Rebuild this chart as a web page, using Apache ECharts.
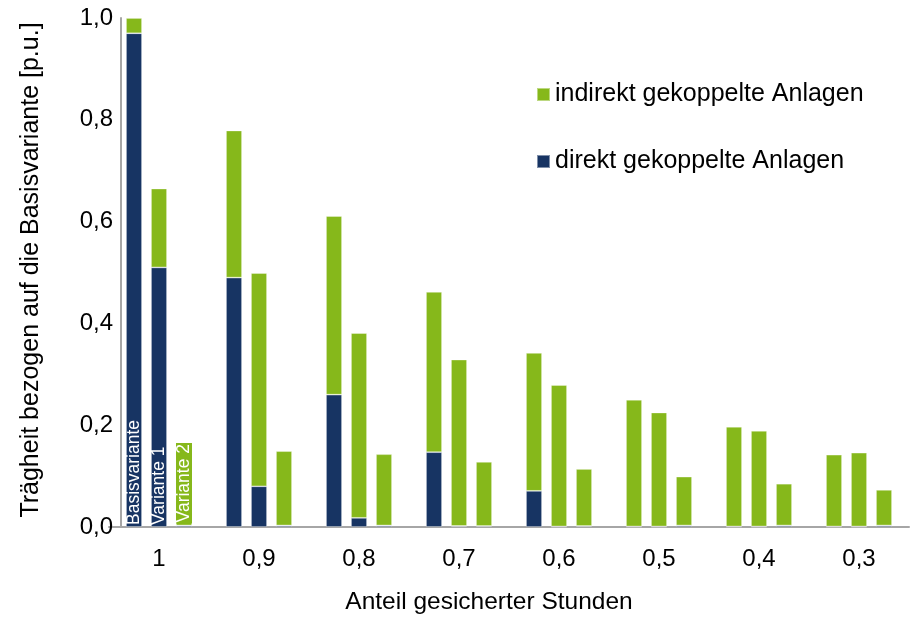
<!DOCTYPE html>
<html>
<head>
<meta charset="utf-8">
<script src="https://cdn.jsdelivr.net/npm/echarts@6/dist/echarts.min.js"></script>
<style>
html,body{margin:0;padding:0;background:#fff;}
#chart{width:910px;height:620px;}
</style>
</head>
<body>
<div id="chart"></div>
<script>
// Categories: share of secured hours
const categories = ['1', '0,9', '0,8', '0,7', '0,6', '0,5', '0,4', '0,3'];
const yTicks = [0, 0.2, 0.4, 0.6, 0.8, 1.0];

// Basisvariante
const basisDirect   = [0.970, 0.490, 0.260, 0.147, 0.071, 0.001, 0.001, 0.001];
const basisIndirect = [0.030, 0.289, 0.351, 0.315, 0.271, 0.249, 0.196, 0.141];
// Variante 1
const v1Direct      = [0.510, 0.080, 0.018, 0.002, 0.001, 0.001, 0.001, 0.001];
const v1Indirect    = [0.155, 0.419, 0.363, 0.327, 0.278, 0.224, 0.188, 0.145];
// Variante 2
const v2Direct      = [0.003, 0.003, 0.003, 0.002, 0.002, 0.003, 0.003, 0.003];
const v2Indirect    = [0.160, 0.146, 0.140, 0.126, 0.112, 0.096, 0.082, 0.070];

const variantNames = ['Basisvariante', 'Variante 1', 'Variante 2'];
const nameIndirect = 'indirekt gekoppelte Anlagen';
const nameDirect = 'direkt gekoppelte Anlagen';

const GREEN = '#86b81b';
const BLUE = '#173463';
const FONT = '"Liberation Sans", Arial, sans-serif';

function labelled(values, text, bg) {
  return values.map(function (v, i) {
    if (i !== 0) return v;
    const lab = {
      show: true, formatter: text, position: 'insideBottom', distance: 2,
      rotate: 90, align: 'left', verticalAlign: 'middle',
      color: '#fff', fontSize: 17.5, fontFamily: FONT, lineHeight: 16
    };
    if (bg) { lab.backgroundColor = bg; lab.padding = [0, 1, 0, 1]; }
    return { value: v, label: lab };
  });
}

function barSeries(name, stack, data, color) {
  return {
    type: 'bar', name: name, stack: stack, data: data,
    barWidth: 16, barGap: '56.25%',
    itemStyle: { color: color, borderColor: 'rgba(255,255,255,0.45)', borderWidth: 0.8 },
    emphasis: { disabled: true },
    animation: false
  };
}

const chart = echarts.init(document.getElementById('chart'), null, { renderer: 'canvas' });
chart.setOption({
  backgroundColor: '#fff',
  animation: false,
  textStyle: { fontFamily: FONT },
  grid: { left: 109, width: 800, top: 18, height: 514, containLabel: false },
  legend: {
    data: [nameIndirect, nameDirect],
    orient: 'vertical', left: 531, top: 77,
    itemWidth: 13, itemHeight: 13, itemGap: 42,
    icon: 'rect',
    textStyle: { fontSize: 25, color: '#000', fontFamily: FONT }
  },
  xAxis: {
    type: 'category', data: categories,
    name: 'Anteil gesicherter Stunden', nameLocation: 'middle', nameGap: 63,
    nameTextStyle: { fontSize: 24.5, color: '#000', fontFamily: FONT, padding: [0, 40, 0, 0] },
    axisLine: { lineStyle: { color: '#a6a6a6', width: 2 } },
    axisTick: { show: false },
    axisLabel: { fontSize: 24, color: '#000', margin: 20, fontFamily: FONT }
  },
  yAxis: {
    type: 'value', min: 0, max: 1, interval: 0.2, offset: -12,
    name: 'Trägheit bezogen auf die Basisvariante [p.u.]', nameLocation: 'middle', nameGap: 77,
    nameTextStyle: { fontSize: 25, color: '#000', fontFamily: FONT, padding: [0, 0, 0, 5] },
    axisLine: { show: true, lineStyle: { color: '#a6a6a6', width: 2 } },
    axisTick: { show: false },
    splitLine: { show: false },
    axisLabel: {
      fontSize: 24, color: '#000', margin: 8, fontFamily: FONT,
      customValues: yTicks,
      formatter: function (v) { return v.toFixed(1).replace('.', ','); }
    }
  },
  series: [
    barSeries(nameDirect, 'basis', labelled(basisDirect, variantNames[0]), BLUE),
    barSeries(nameIndirect, 'basis', basisIndirect, GREEN),
    barSeries(nameDirect, 'v1', labelled(v1Direct, variantNames[1]), BLUE),
    barSeries(nameIndirect, 'v1', v1Indirect, GREEN),
    barSeries(nameDirect, 'v2', v2Direct, BLUE),
    barSeries(nameIndirect, 'v2', labelled(v2Indirect, variantNames[2], GREEN), GREEN)
  ]
});
</script>
</body>
</html>
